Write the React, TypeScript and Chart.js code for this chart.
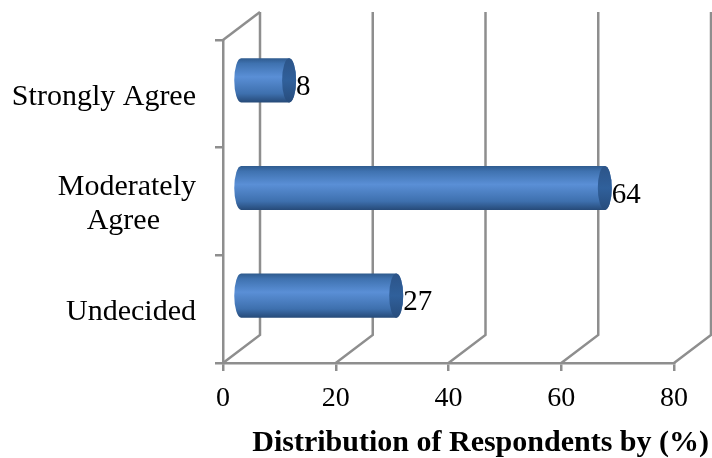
import React, { useEffect, useRef } from "react";
import { Chart, registerables } from "chart.js";

Chart.register(...registerables);

const categories = ["Strongly Agree", "Moderately Agree", "Undecided"];
const values = [8, 64, 27];
const xTicksMax = 80;
const xStep = 20;
const axisTitle = "Distribution of Respondents by (%)";

const GRAY = "#8e8e8e";
const SERIF = "'Liberation Serif', 'Times New Roman', serif";
const DEPTH_X = 37;
const DEPTH_Y = 28;

const wallPlugin = {
  id: "wall",
  beforeDatasetsDraw(chart: any) {
    const { ctx, chartArea, scales } = chart;
    const { top, bottom, left } = chartArea;
    ctx.save();
    ctx.strokeStyle = GRAY;
    ctx.lineWidth = 2.5;
    scales.x.ticks.forEach((_: any, i: number) => {
      const x = scales.x.getPixelForTick(i);
      ctx.beginPath();
      ctx.moveTo(x, bottom);
      ctx.lineTo(x + DEPTH_X, bottom - DEPTH_Y);
      ctx.lineTo(x + DEPTH_X, top - DEPTH_Y);
      ctx.stroke();
    });
    ctx.beginPath();
    ctx.moveTo(left, top);
    ctx.lineTo(left + DEPTH_X, top - DEPTH_Y);
    ctx.stroke();
    ctx.restore();
  },
};

const cylinderPlugin = {
  id: "cylinder",
  afterDatasetsDraw(chart: any) {
    const { ctx } = chart;
    const meta = chart.getDatasetMeta(0);
    meta.data.forEach((bar: any, i: number) => {
      const h = bar.height;
      const cy = bar.y - 13.5;
      const y0 = cy - h / 2;
      const y1 = cy + h / 2;
      const xs = bar.base + 17;
      const xe = bar.x + 21;
      const rx = 7;
      const g = ctx.createLinearGradient(0, y0, 0, y1);
      g.addColorStop(0, "#2f5b8e");
      g.addColorStop(0.12, "#3f72b0");
      g.addColorStop(0.42, "#5a8fd6");
      g.addColorStop(0.8, "#3e70ae");
      g.addColorStop(1, "#264a78");
      ctx.save();
      ctx.fillStyle = g;
      ctx.beginPath();
      ctx.moveTo(xs, y0);
      ctx.lineTo(xe, y0);
      ctx.ellipse(xe, cy, rx, h / 2, 0, -Math.PI / 2, Math.PI / 2);
      ctx.lineTo(xs, y1);
      ctx.ellipse(xs, cy, rx, h / 2, 0, Math.PI / 2, Math.PI * 1.5);
      ctx.closePath();
      ctx.fill();
      const c = ctx.createLinearGradient(0, y0, 0, y1);
      c.addColorStop(0, "#2c5488");
      c.addColorStop(0.5, "#30609b");
      c.addColorStop(1, "#274c7c");
      ctx.fillStyle = c;
      ctx.beginPath();
      ctx.ellipse(xe, cy, rx, h / 2, 0, 0, Math.PI * 2);
      ctx.fill();
      ctx.fillStyle = "#000";
      ctx.font = `29px ${SERIF}`;
      ctx.textAlign = "left";
      ctx.textBaseline = "middle";
      ctx.fillText(String(values[i]), xe + rx, cy + 7);
      ctx.restore();
    });
  },
};

export default function App() {
  const ref = useRef<HTMLCanvasElement>(null);
  useEffect(() => {
    const chart = new Chart(ref.current!, {
      type: "bar",
      data: {
        labels: categories,
        datasets: [
          {
            data: values,
            backgroundColor: "rgba(0,0,0,0)",
            barPercentage: 0.41,
            categoryPercentage: 1,
          },
        ],
      },
      options: {
        indexAxis: "y",
        responsive: false,
        animation: false,
        layout: { padding: { top: 40, right: 3, bottom: 0, left: 0 } },
        plugins: {
          legend: { display: false },
          tooltip: { enabled: false },
          title: {
            display: true,
            position: "bottom",
            align: "end",
            text: axisTitle,
            color: "#000",
            font: { family: SERIF, size: 30, weight: "bold", lineHeight: 1 },
            padding: { top: 1.4, bottom: 0 },
          },
        },
        scales: {
          x: {
            min: 0,
            max: xTicksMax,
            ticks: {
              stepSize: xStep,
              color: "#000",
              font: { family: SERIF, size: 28 },
              padding: 11,
              maxRotation: 0,
            },
            grid: { drawOnChartArea: false, drawTicks: true, tickLength: 8, color: GRAY, lineWidth: 2.5 },
            border: { display: true, color: GRAY, width: 2.5 },
            afterFit(s: any) {
              s.paddingRight = 38;
            },
          },
          y: {
            ticks: {
              color: "#000",
              font: { family: SERIF, size: 30, lineHeight: 1.13 },
              padding: 19,
              labelOffset: 3,
              autoSkip: false,
              callback(this: any, v: any) {
                const l = this.getLabelForValue(v);
                return l === "Moderately Agree" ? ["Moderately", "Agree\u00A0\u00A0\u00A0\u00A0\u2009"] : l;
              },
            },
            grid: { drawOnChartArea: false, drawTicks: true, tickLength: 8, color: GRAY, lineWidth: 2.5 },
            border: { display: true, color: GRAY, width: 2.5 },
            afterFit(s: any) {
              s.width = 223;
            },
          },
        },
      },
      plugins: [wallPlugin, cylinderPlugin],
    } as any);
    return () => chart.destroy();
  }, []);
  return (
    <div style={{ position: "fixed", left: 0, top: 0, width: 712, height: 458, background: "#fff" }}>
      <canvas ref={ref} width={712} height={458} style={{ display: "block" }} />
    </div>
  );
}
